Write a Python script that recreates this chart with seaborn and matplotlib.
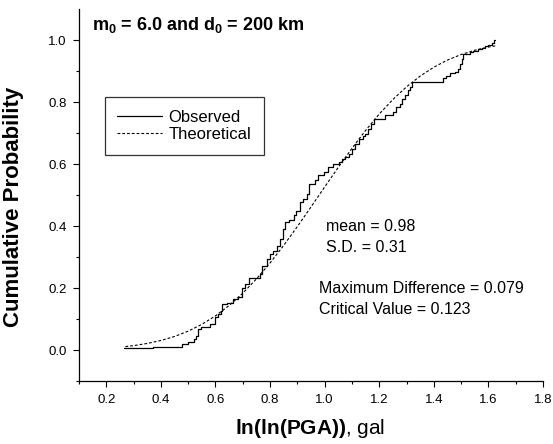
import matplotlib
matplotlib.use("Agg")
import matplotlib.pyplot as plt
import seaborn as sns
import pandas as pd

obs_x = [0.265, 0.37, 0.477, 0.50, 0.52, 0.53, 0.536, 0.548, 0.58, 0.599, 0.61, 0.62,
         0.625, 0.641, 0.665, 0.684, 0.697, 0.71, 0.722, 0.764, 0.77, 0.788, 0.80, 0.812,
         0.825, 0.837, 0.849, 0.855, 0.868, 0.886, 0.895, 0.91, 0.922, 0.935, 0.941, 0.965,
         0.977, 0.996, 1.014, 1.032, 1.051, 1.063, 1.075, 1.088, 1.10, 1.112, 1.125, 1.14,
         1.148, 1.16, 1.17, 1.18, 1.222, 1.252, 1.26, 1.277, 1.285, 1.295, 1.307, 1.313,
         1.319, 1.433, 1.445, 1.46, 1.478, 1.49, 1.496, 1.502, 1.508, 1.533, 1.545, 1.563,
         1.576, 1.588, 1.60, 1.613, 1.619, 1.625]
obs_y = [0.005, 0.011, 0.018, 0.027, 0.035, 0.045, 0.067, 0.074, 0.083, 0.105, 0.115, 0.126,
         0.148, 0.153, 0.164, 0.17, 0.20, 0.212, 0.232, 0.245, 0.272, 0.294, 0.31, 0.32,
         0.337, 0.358, 0.39, 0.412, 0.42, 0.434, 0.45, 0.477, 0.487, 0.504, 0.536, 0.547,
         0.563, 0.574, 0.59, 0.60, 0.606, 0.617, 0.622, 0.633, 0.649, 0.666, 0.68, 0.69,
         0.698, 0.714, 0.73, 0.745, 0.757, 0.768, 0.784, 0.795, 0.811, 0.822, 0.838, 0.849,
         0.865, 0.876, 0.884, 0.892, 0.897, 0.908, 0.924, 0.94, 0.955, 0.96, 0.965, 0.97,
         0.975, 0.98, 0.985, 0.99, 1.0, 1.0]

# Theoretical normal CDF (mean 0.98, S.D. 0.31)
theo_x = [0.27, 0.30, 0.35, 0.40, 0.45, 0.50, 0.55, 0.60, 0.65, 0.70, 0.75, 0.80, 0.85,
          0.90, 0.95, 1.00, 1.05, 1.10, 1.15, 1.20, 1.25, 1.30, 1.35, 1.40, 1.45, 1.50,
          1.55, 1.60, 1.625]
theo_y = [0.011, 0.0141, 0.0211, 0.0307, 0.0437, 0.0608, 0.0827, 0.1101, 0.1435, 0.1833,
          0.2291, 0.2807, 0.3375, 0.3982, 0.4615, 0.5257, 0.5893, 0.6506, 0.7083, 0.7611,
          0.8081, 0.8490, 0.8837, 0.9123, 0.9352, 0.9532, 0.9670, 0.9772, 0.981]

x_ticks = [0.2, 0.4, 0.6, 0.8, 1.0, 1.2, 1.4, 1.6, 1.8]
y_ticks = [0.0, 0.2, 0.4, 0.6, 0.8, 1.0]

sns.set_style("ticks")
plt.rcParams['font.family'] = ['Liberation Sans', 'DejaVu Sans']
plt.rcParams['mathtext.fontset'] = 'custom'
plt.rcParams['mathtext.rm'] = 'Liberation Sans'
plt.rcParams['mathtext.bf'] = 'Liberation Sans:bold'
plt.rcParams['mathtext.it'] = 'Liberation Sans:italic'
plt.rcParams['text.color'] = 'black'
plt.rcParams['axes.labelcolor'] = 'black'

fig = plt.figure(figsize=(5.53, 4.44), dpi=100)
ax = fig.add_axes([79/553, 63/444, 464/553, 372/444])

obs = pd.DataFrame({"x": obs_x, "y": obs_y})
theo = pd.DataFrame({"x": theo_x, "y": theo_y})

sns.lineplot(data=obs, x="x", y="y", ax=ax, color="black", linewidth=0.9,
             drawstyle="steps-post", estimator=None, sort=False, label="Observed")
sns.lineplot(data=theo, x="x", y="y", ax=ax, color="black", linewidth=0.8,
             linestyle=(0, (2.5, 1.8)), estimator=None, sort=False, label="Theoretical")

ax.set_xlim(0.1, 1.8)
ax.set_ylim(-0.1, 1.1)
ax.set_xticks(x_ticks)
ax.set_xticklabels([f"{v:.1f}" for v in x_ticks])
ax.set_yticks(y_ticks)
ax.set_yticklabels([f"{v:.1f}" for v in y_ticks])
ax.set_xticks([0.1, 0.3, 0.5, 0.7, 0.9, 1.1, 1.3, 1.5, 1.7], minor=True)
ax.set_yticks([-0.1, 0.1, 0.3, 0.5, 0.7, 0.9], minor=True)
ax.tick_params(which="major", direction="out", length=4, width=0.8, labelsize=9.5,
               colors="black", pad=5)
ax.tick_params(which="minor", direction="out", length=2.5, width=0.8, colors="black")
for s in ["top", "right"]:
    ax.spines[s].set_visible(False)
for s in ["left", "bottom"]:
    ax.spines[s].set_linewidth(0.9)
    ax.spines[s].set_color("black")

ax.set_xlabel(r"$\mathbf{ln(ln(PGA))}$, gal", fontsize=15)
ax.set_ylabel("Cumulative Probability", fontsize=16, fontweight="bold")
ax.xaxis.set_label_coords(0.498, -0.098)
ax.yaxis.set_label_coords(-0.118, 0.469)

ax.text(0.148, 1.049, "m$_0$ = 6.0 and d$_0$ = 200 km", fontsize=13, fontweight="bold",
        va="center", ha="left")
plt.rcParams['mathtext.default'] = 'bf'

ax.text(1.006, 0.398, "mean = 0.98", fontsize=11.5, va="center", ha="left")
ax.text(1.006, 0.331, "S.D. = 0.31", fontsize=11.5, va="center", ha="left")
ax.text(0.981, 0.200, "Maximum Difference = 0.079", fontsize=11.5, va="center", ha="left")
ax.text(0.981, 0.132, "Critical Value = 0.123", fontsize=11.5, va="center", ha="left")

leg = ax.legend(loc="upper left", bbox_to_anchor=(0.056, 0.763), frameon=True,
                fancybox=False, fontsize=12, handlelength=2.7, handletextpad=0.35,
                borderpad=0.75, labelspacing=0.15, borderaxespad=0)
leg.get_frame().set_edgecolor("black")
leg.get_frame().set_linewidth(0.9)

fig.savefig("out.png", dpi=100)
